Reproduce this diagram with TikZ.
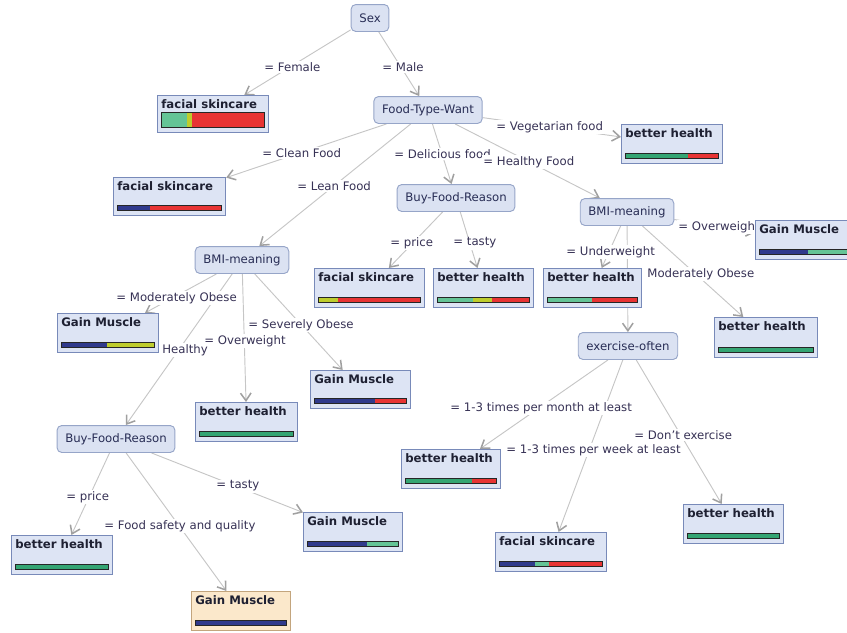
\documentclass[tikz,border=0pt]{standalone}
\usepackage{fontspec}
\setmainfont{DejaVu Sans}
\usetikzlibrary{arrows.meta,backgrounds}

\definecolor{nodefill}{RGB}{219,226,242}
\definecolor{nodeline}{RGB}{150,165,200}
\definecolor{nodetext}{RGB}{40,45,85}
\definecolor{leaffill}{RGB}{221,228,244}
\definecolor{leafline}{RGB}{120,138,185}
\definecolor{pickfill}{RGB}{251,232,203}
\definecolor{pickline}{RGB}{195,165,125}
\definecolor{titletext}{RGB}{30,32,50}
\definecolor{edgegray}{RGB}{198,198,198}
\definecolor{tipgray}{RGB}{160,160,160}
\definecolor{labeltext}{RGB}{55,50,85}
\definecolor{cteal}{RGB}{100,196,150}
\definecolor{cgreen}{RGB}{52,165,115}
\definecolor{cyel}{RGB}{190,205,45}
\definecolor{cred}{RGB}{232,52,52}
\definecolor{cnavy}{RGB}{48,58,140}

\tikzset{
  splitnode/.style={draw=nodeline, fill=nodefill, rounded corners=4pt, line width=0.8pt,
    minimum height=23pt, inner xsep=7pt, text=nodetext},
  leafbox/.style={draw=leafline, fill=leaffill, line width=1pt, anchor=north west, inner sep=0pt},
  leaftitle/.style={anchor=north west, font=\bfseries, text=titletext, inner xsep=3.5pt, inner ysep=3.5pt},
  barline/.style={draw=black!85, line width=0.7pt},
  edge/.style={draw=edgegray, line width=0.8pt,
    -{Straight Barb[length=6.5pt,width=9pt,color=tipgray,line width=1.3pt]}},
  elabel/.style={anchor=west, fill=white, inner sep=1pt, text=labeltext}
}

% leaf box: [bar height] name, x0, y0, x1, y1, title, bar segments
\newcommand{\leaf}[8][5]{%
  \node[leafbox, minimum width={(#5-#3)*0.03cm}, minimum height={(#6-#4)*0.03cm},
        label={[leaftitle]north west:#7}] (#2) at (#3,#4) {};
  \foreach \p/\q/\col in {#8}
    \fill[\col] ({#3+4+(#5-#3-8)*\p},{#6-5-#1}) rectangle ({#3+4+(#5-#3-8)*\q},{#6-5});
  \draw[barline] ({#3+4},{#6-5-#1}) rectangle ({#5-4},{#6-5});
}

\begin{document}
\begin{tikzpicture}[x=0.03cm, y=-0.03cm]
\useasboundingbox (0,0) rectangle (847,632);

% split nodes
\node[splitnode] (sex) at (370,18) {Sex};
\node[splitnode] (ftw) at (428,110) {Food-Type-Want};
\node[splitnode] (bfra) at (456,198) {Buy-Food-Reason};
\node[splitnode] (bmia) at (627,212) {BMI-meaning};
\node[splitnode] (bmib) at (242,260) {BMI-meaning};
\node[splitnode] (exer) at (628,346) {exercise-often};
\node[splitnode] (bfrb) at (116,439) {Buy-Food-Reason};

% leaves
\leaf[15]{skinfem}{157}{95}{268}{132}{facial skincare}{0/.25/cteal, .25/.30/cyel, .30/1/cred}
\leaf{skinclean}{113}{177}{225}{215}{facial skincare}{0/.32/cnavy, .32/1/cred}
\leaf{healthveg}{621}{124}{722}{163}{better health}{0/.68/cgreen, .68/1/cred}
\leaf{skinprice}{314}{268}{424}{307}{facial skincare}{0/.2/cyel, .2/1/cred}
\leaf{healthtasty}{433}{268}{533}{307}{better health}{0/.39/cteal, .39/.6/cyel, .6/1/cred}
\leaf{healthunder}{543}{268}{641}{307}{better health}{0/.5/cteal, .5/1/cred}
\leaf{muscleover}{755}{220}{852}{259}{Gain Muscle}{0/.55/cnavy, .55/1/cteal}
\leaf{healthmoda}{714}{317}{817}{357}{better health}{0/1/cgreen}
\leaf{musclemodb}{57}{313}{158}{352}{Gain Muscle}{0/.49/cnavy, .49/1/cyel}
\leaf{healthover}{195}{402}{297}{441}{better health}{0/1/cgreen}
\leaf{musclesev}{310}{370}{410}{408}{Gain Muscle}{0/.66/cnavy, .66/1/cred}
\leaf{healthmonth}{401}{449}{500}{488}{better health}{0/.74/cgreen, .74/1/cred}
\leaf{skinweek}{495}{532}{606}{571}{facial skincare}{0/.35/cnavy, .35/.49/cteal, .49/1/cred}
\leaf{healthnoex}{683}{504}{783}{543}{better health}{0/1/cgreen}
\leaf{healthprice}{11}{535}{112}{574}{better health}{0/1/cgreen}
\leaf{muscletasty}{303}{512}{402}{551}{Gain Muscle}{0/.66/cnavy, .66/1/cteal}
\begin{scope}[leafbox/.append style={fill=pickfill, draw=pickline}]
  \leaf{musclesafe}{191}{591}{290}{630}{Gain Muscle}{0/1/cnavy}
\end{scope}

\begin{scope}[on background layer]
  % connectors
  \draw[edge] (sex) -- (skinfem);
  \draw[edge] (sex) -- (ftw);
  \draw[edge] (ftw) -- (skinclean);
  \draw[edge] (ftw) -- (bmib);
  \draw[edge] (ftw) -- (bfra);
  \draw[edge] (ftw) -- (bmia);
  \draw[edge] (ftw) -- (healthveg);
  \draw[edge] (bfra) -- (skinprice);
  \draw[edge] (bfra) -- (healthtasty);
  \draw[edge] (bmia) -- (healthunder);
  \draw[edge] (bmia) -- (exer);
  \draw[edge] (bmia) -- (muscleover);
  \draw[edge] (bmia) -- (healthmoda);
  \draw[edge] (bmib) -- (musclemodb);
  \draw[edge] (bmib) -- (bfrb);
  \draw[edge] (bmib) -- (healthover);
  \draw[edge] (bmib) -- (musclesev);
  \draw[edge] (exer) -- (healthmonth);
  \draw[edge] (exer) -- (skinweek);
  \draw[edge] (exer) -- (healthnoex);
  \draw[edge] (bfrb) -- (healthprice);
  \draw[edge] (bfrb) -- (musclesafe);
  \draw[edge] (bfrb) -- (muscletasty);
  % edge labels
  \node[elabel] (lfemale) at (263,67) {= Female};
  \node[elabel] (lmale) at (381,67) {= Male};
  \node[elabel] (lclean) at (261,153) {= Clean Food};
  \node[elabel] (llean) at (296,186) {= Lean Food};
  \node[elabel] (ldelic) at (393,154) {= Delicious food};
  \node[elabel] (lhealthy) at (482,162) {= Healthy Food};
  \node[elabel] (lveg) at (495,127) {= Vegetarian food};
  \node[elabel] (lpricea) at (389,243) {= price};
  \node[elabel] (ltastya) at (452,243) {= tasty};
  \node[elabel] (lunder) at (565,252) {= Underweight};
  \node[elabel] (lovera) at (677,227) {= Overweight};
  \node[elabel] (lmoda) at (646,274) {Moderately Obese};
  \node[elabel] (lmodb) at (115,298) {= Moderately Obese};
  \node[elabel] (lsev) at (247,325) {= Severely Obese};
  \node[elabel] (loverb) at (203,341) {= Overweight};
  \node[elabel] (lhealthb) at (161,350) {Healthy};
  \node[elabel] (lmonth) at (449,408) {= 1-3 times per month at least};
  \node[elabel] (lweek) at (505,450) {= 1-3 times per week at least};
  \node[elabel] (lnoex) at (633,435) {= Don't exercise};
  \node[elabel] (lpriceb) at (65,497) {= price};
  \node[elabel] (ltastyb) at (215,486) {= tasty};
  \node[elabel] (lsafe) at (103,526) {= Food safety and quality};
\end{scope}
\end{tikzpicture}
\end{document}
